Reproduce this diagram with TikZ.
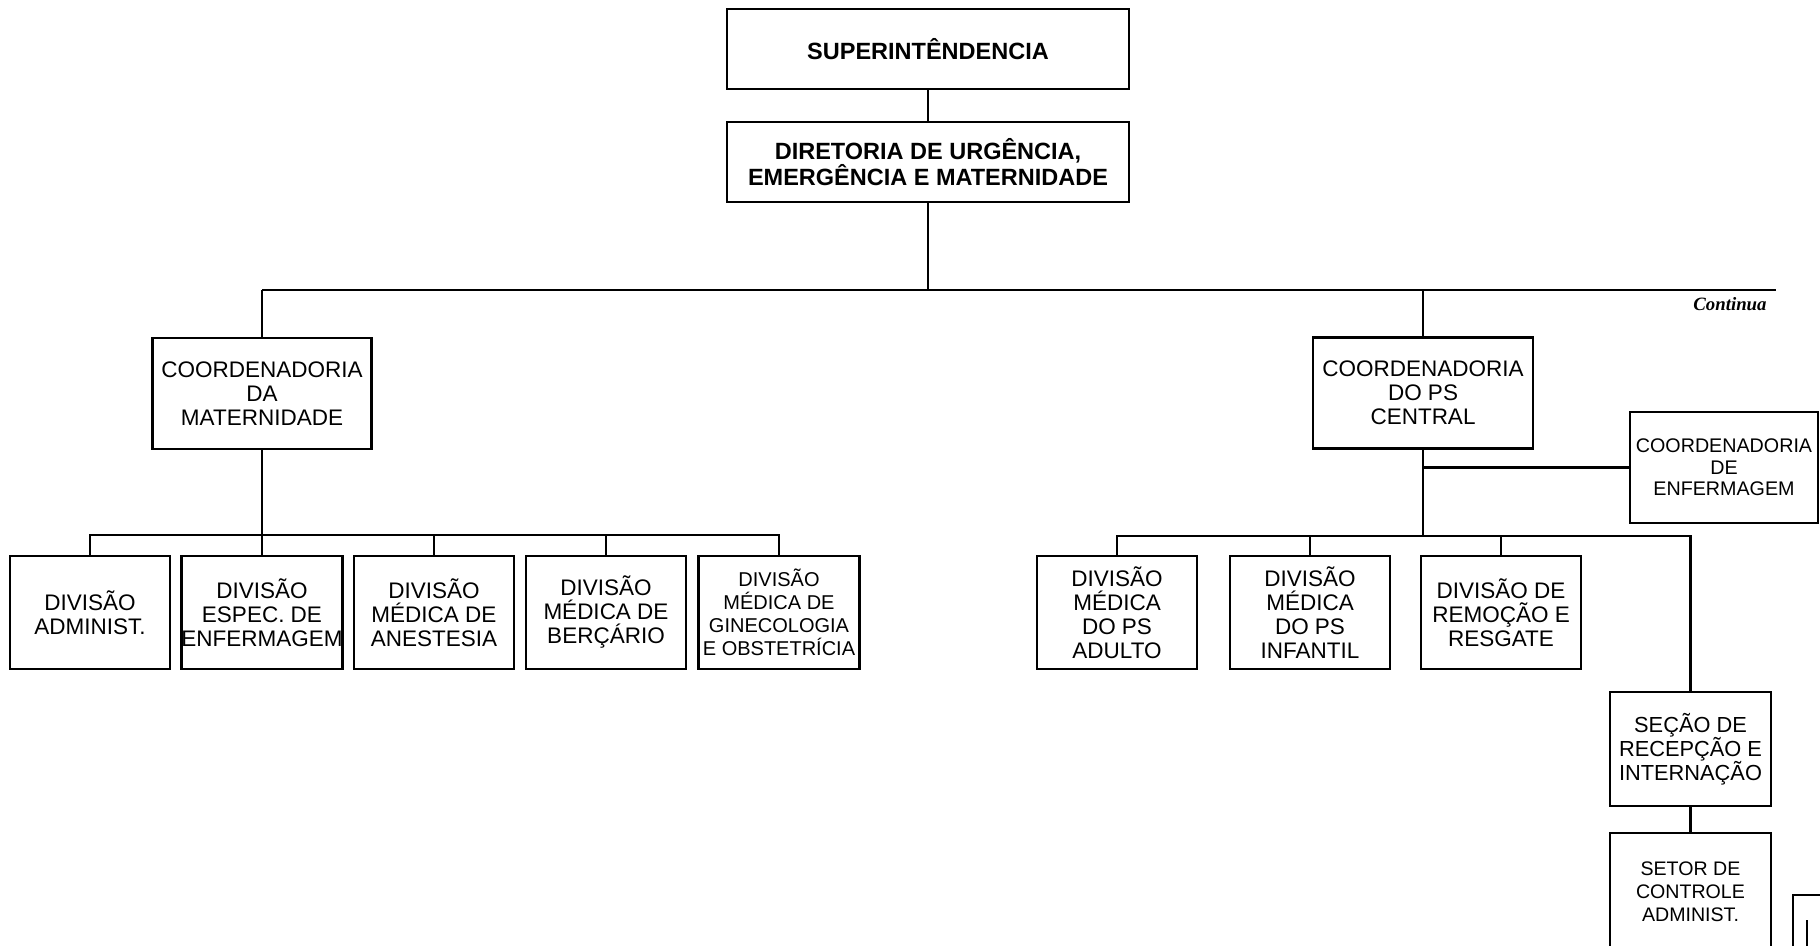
\documentclass[tikz,border=0pt]{standalone}
\usepackage{fontspec}
\setmainfont{Liberation Sans}
\newfontfamily\serifit{Liberation Serif}
\begin{document}
\begin{tikzpicture}[x=0.5pt,y=-0.5pt,
  box/.style={draw, line width=1.3pt, align=center, inner sep=0pt,
    minimum width=160*0.5pt, minimum height=113*0.5pt,
    font=\fontsize{11.25}{12}\selectfont},
  topbox/.style={box, minimum width=402*0.5pt, minimum height=80*0.5pt,
    font=\fontsize{11.75}{12.75}\selectfont\bfseries},
  coordbox/.style={box, minimum width=219*0.5pt, minimum height=111*0.5pt},
  smallbox/.style={box, font=\fontsize{9.8}{11.5}\selectfont},
  conn/.style={line width=1.3pt}]
\useasboundingbox (0,0) rectangle (1820,946);
\fill[white] (0,0) rectangle (1820,946);

% top
\node[topbox] (sup) at (928,49) {SUPERINTÊNDENCIA};
\node[topbox] (dir) at (928,162) {DIRETORIA DE URGÊNCIA,\\EMERGÊNCIA E MATERNIDADE};

% maternity branch
\node[coordbox] (cmat) at (262,393.5) {COORDENADORIA\\DA\\MATERNIDADE};
\node[box] (adm) at (90,612.5) {DIVISÃO\\ADMINIST.};
\node[box] (esp) at (262,612.5) {DIVISÃO\\ESPEC. DE\\ENFERMAGEM};
\node[box] (ane) at (434,612.5) {DIVISÃO\\MÉDICA DE\\ANESTESIA};
\node[box] (ber) at (606,612.5) {DIVISÃO\\MÉDICA DE\\BERÇÁRIO};
\node[box, minimum width=161*0.5pt, font=\fontsize{10}{11.6}\selectfont] (gin) at (779,612.5) {DIVISÃO\\MÉDICA DE\\GINECOLOGIA\\E OBSTETRÍCIA};

% PS central branch
\node[coordbox, minimum width=220*0.5pt] (cps) at (1423,393) {COORDENADORIA\\DO PS\\CENTRAL};
\node[smallbox, minimum width=188*0.5pt, minimum height=111*0.5pt, font=\fontsize{9.85}{10.8}\selectfont] (cenf) at (1724,467.5) {COORDENADORIA\\DE\\ENFERMAGEM};
\node[box] (adu) at (1117,612.5) {DIVISÃO\\MÉDICA\\DO PS\\ADULTO};
\node[box] (inf) at (1310,612.5) {DIVISÃO\\MÉDICA\\DO PS\\INFANTIL};
\node[box] (rem) at (1501,612.5) {DIVISÃO DE\\REMOÇÃO E\\RESGATE};
\node[box, minimum width=161*0.5pt, minimum height=114*0.5pt, font=\fontsize{10.9}{12}\selectfont] (sec) at (1690.5,749) {SEÇÃO DE\\RECEPÇÃO E\\INTERNAÇÃO};
\node[smallbox, minimum width=161*0.5pt, minimum height=117*0.5pt] (set) at (1690.5,891.5) {SETOR DE\\CONTROLE\\ADMINIST.};

% partially visible box at the cut edge
\node[draw, line width=1.3pt, minimum width=74*0.5pt, minimum height=90*0.5pt, inner sep=0pt] (cut) at (1830,940) {};
\coordinate (cuta) at (1807,920);
\coordinate (cutb) at (1807,950);
\draw[conn] (cuta) -- (cutb);

% main bus
\coordinate (bl) at (262,290);
\coordinate (br) at (1776,290);
\draw[conn] (sup.south) -- (dir.north);
\draw[conn] (dir.south) -- (dir.south |- bl);
\draw[conn] (bl) -- (br);
\draw[conn] (bl) -- (cmat.north);
\draw[conn] (cps.north |- bl) -- (cps.north);
\node[font=\fontsize{9.4}{10}\selectfont\serifit\bfseries\itshape, inner sep=0pt] (cont) at (1730,304) {Continua};

% maternity children
\coordinate (mb) at (262,535);
\draw[conn] (adm.north) |- (mb) -| (gin.north);
\draw[conn] (cmat.south) -- (esp.north);
\draw[conn] (ane.north) -- (ane.north |- mb);
\draw[conn] (ber.north) -- (ber.north |- mb);

% PS children
\coordinate (pb) at (1423,536);
\draw[conn] (cps.south) -- (pb);
\draw[conn] (adu.north) |- (pb) -| (sec.north);
\draw[conn] (inf.north) -- (inf.north |- pb);
\draw[conn] (rem.north) -- (rem.north |- pb);
\draw[conn] (sec.south) -- (set.north);
\draw[conn] (cps.south |- cenf.west) -- (cenf.west);
\end{tikzpicture}
\end{document}
